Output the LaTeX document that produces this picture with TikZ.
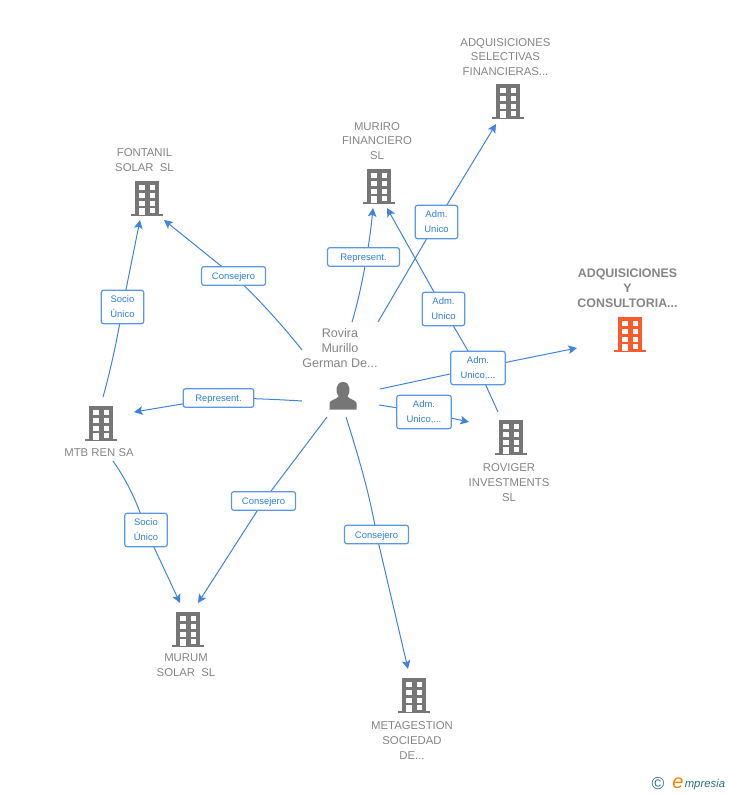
\documentclass[tikz,border=0pt]{standalone}
\usepackage{fontspec}
\setmainfont{Liberation Sans}
\usetikzlibrary{arrows.meta,backgrounds}
\definecolor{linkblue}{HTML}{3F83E0}
\definecolor{labelblue}{HTML}{2F7FE0}
\definecolor{bordblue}{HTML}{5A97E4}
\definecolor{txtgrey}{HTML}{858585}
\definecolor{icongrey}{HTML}{767676}
\definecolor{hot}{HTML}{FF5A2B}
\definecolor{logoteal}{HTML}{2F6F85}
\tikzset{
  x=0.75pt,y=-0.75pt,
  conn/.style={draw=linkblue,line width=0.75pt},
  arr/.style={conn,-{Stealth[length=6.5pt,width=6.5pt,inset=1.5pt]}},
  linklabel/.style={draw=bordblue,line width=0.9pt,rounded corners=1.8pt,fill=white,text=labelblue,
    font=\fontsize{7.1}{11.2}\selectfont,align=center,inner sep=0pt,
    execute at begin node={\rule{0pt}{7pt}}},
  ent/.style={text=txtgrey,font=\fontsize{8.5}{11.1}\selectfont,align=center,inner sep=0pt},
  hotent/.style={text=txtgrey,font=\bfseries\fontsize{9.3}{11.2}\selectfont,align=center,inner sep=0pt},
}
% building icon, origin at the centre of its footprint
\newcommand{\bldg}[3]{%
  \node[inner sep=0pt,minimum width=24pt,minimum height=26pt] (#3) at (#1) {};
  \begin{scope}[shift={(#1)}]
    \fill[#2] (-16,16) rectangle (16,18);
    \fill[#2] (-12,-17) rectangle (12,17);
    \foreach \yy in {-13,-5,3} {
      \fill[white] (-8,\yy) rectangle (-2.5,\yy+5);
      \fill[white] (2.5,\yy) rectangle (8,\yy+5);
    }
    \fill[white] (2.5,10) rectangle (8,15);
    \fill[white] (-8,10) rectangle (-2.5,17);
  \end{scope}}
\begin{document}
\begin{tikzpicture}
\useasboundingbox (0,0) rectangle (728,795);

% buildings
\bldg{147,197.5}{icongrey}{fontanil}
\bldg{379,185.5}{icongrey}{muriro}
\bldg{508,101}{icongrey}{selectivas}
\bldg{630,334}{hot}{consultoria}
\bldg{511,437}{icongrey}{roviger}
\bldg{101,423}{icongrey}{mtb}
\bldg{188,629}{icongrey}{murum}
\bldg{414,695}{icongrey}{metagestion}

% person
\node[inner sep=0pt,minimum width=20pt,minimum height=20pt] (person) at (343,396) {};
\fill[icongrey] (329.5,409.5) -- (329.5,403) .. controls (330,400) and (337,399) .. (338.5,396.5)
  .. controls (335,392) and (335.5,382) .. (343,382) .. controls (350.5,382) and (351,392) .. (347.5,396.5)
  .. controls (349,399) and (356,400) .. (356.5,403) -- (356.5,409.5) -- cycle;

% entity names
\node[ent] (tfontanil) at (144.5,160) {FONTANIL\\SOLAR\ \ SL};
\node[ent] (tmuriro) at (377,141) {MURIRO\\FINANCIERO\\SL};
\node[ent] (tselectivas) at (505.5,57) {ADQUISICIONES\\SELECTIVAS\\FINANCIERAS...};
\node[hotent] (tconsultoria) at (627.5,288) {ADQUISICIONES\\Y\\CONSULTORIA...};
\node[ent] (troviger) at (509,482.5) {ROVIGER\\INVESTMENTS\\SL};
\node[ent] (tmtb) at (99,453) {MTB REN SA};
\node[ent] (tmurum) at (186,665.5) {MURUM\\SOLAR\ \ SL};
\node[ent] (tmetagestion) at (412,740.5) {METAGESTION\\SOCIEDAD\\DE...};
\node[ent,font=\fontsize{9.4}{11.2}\selectfont] (tperson) at (340,348) {Rovira\\Murillo\\German De...};

% connector labels
\node[linklabel,minimum width=54pt,minimum height=14pt] (l1) at (363.5,257) {Represent.};
\node[linklabel,minimum width=32pt,minimum height=25pt] (l2) at (436.5,222) {Adm.\\Unico};
\node[linklabel,minimum width=32pt,minimum height=25pt] (l3) at (443.5,309) {Adm.\\Unico};
\node[linklabel,minimum width=41pt,minimum height=25pt] (l4) at (478,368) {Adm.\\Unico,...};
\node[linklabel,minimum width=41pt,minimum height=25pt] (l5) at (424,412) {Adm.\\Unico,...};
\node[linklabel,minimum width=48pt,minimum height=14pt] (l6) at (233.5,276) {Consejero};
\node[linklabel,minimum width=53pt,minimum height=14pt] (l7) at (218.5,398) {Represent.};
\node[linklabel,minimum width=32pt,minimum height=25pt] (l8) at (122.5,307) {Socio\\Único};
\node[linklabel,minimum width=32pt,minimum height=25pt] (l9) at (146,530) {Socio\\Único};
\node[linklabel,minimum width=48pt,minimum height=14pt] (l10) at (263.5,501) {Consejero};
\node[linklabel,minimum width=48pt,minimum height=14pt] (l11) at (376.5,534.5) {Consejero};

% free ends of connectors
\coordinate (s1) at (352,322); \coordinate (e1) at (373,208);
\coordinate (s2) at (378,322); \coordinate (e2) at (496,124);
\coordinate (s3) at (498,412); \coordinate (e3) at (387,208);
\coordinate (s4) at (380,389); \coordinate (e4) at (577,348);
\coordinate (s5) at (379,405); \coordinate (e5) at (469,422);
\coordinate (s6) at (302,350); \coordinate (e6) at (164,220);
\coordinate (s7) at (302,401); \coordinate (e7) at (134,412);
\coordinate (s8) at (103,397); \coordinate (e8) at (140,220);
\coordinate (s9) at (113,461); \coordinate (e9) at (180,603);
\coordinate (s10) at (327,417); \coordinate (e10) at (198,603);
\coordinate (s11) at (346,417); \coordinate (e11) at (408,669);

\begin{scope}[on background layer]
  \draw[arr] (s1) .. controls (360,296) and (369,250) .. (e1);
  \draw[arr] (s2) -- (l2.center) -- (e2);
  \draw[arr] (s3) -- (l4.center) -- (l3.center) -- (e3);
  \draw[arr] (s4) -- (l4.center) -- (e4);
  \draw[arr] (s5) -- (l5.center) -- (e5);
  \draw[arr] (s6) .. controls (280,322) and (250,290) .. (l6.center) -- (e6);
  \draw[arr] (s7) .. controls (270,399) and (240,398) .. (l7.center) -- (e7);
  \draw[arr] (s8) .. controls (112,365) and (119,330) .. (l8.center) -- (e8);
  \draw[arr] (s9) .. controls (130,485) and (140,510) .. (l9.center) -- (e9);
  \draw[arr] (s10) -- (l10.center) -- (e10);
  \draw[arr] (s11) .. controls (358,455) and (370,495) .. (l11.center) -- (e11);
\end{scope}

% logo
\node[inner sep=0pt,text=logoteal,font=\fontsize{13}{13}\selectfont] (copy) at (658,784) {©};
\node[inner sep=0pt,anchor=west,text=logoteal,font=\itshape\fontsize{8.5}{10}\selectfont] (brand) at (684.5,785) {mpresia};
\node[inner sep=0pt,text=orange,font=\itshape\fontsize{15}{15}\selectfont] (brande) at (678,783.5) {e};
\end{tikzpicture}
\end{document}
